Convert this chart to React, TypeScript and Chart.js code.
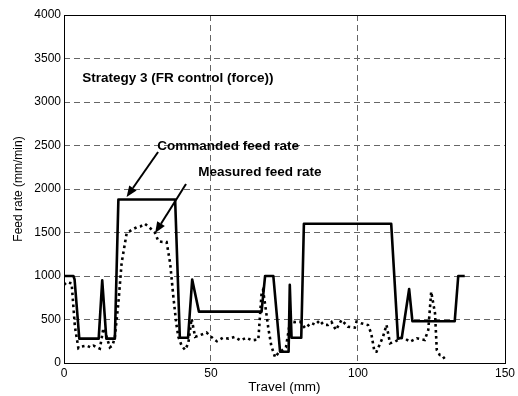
import React, { useEffect, useRef } from "react";
import { Chart, registerables } from "chart.js";

Chart.register(...registerables);

// Commanded feed rate (solid)
const commandedX = [0, 3.2, 3.6, 5.2, 11.8, 13.0, 14.4, 17.3, 18.5, 37.8, 39.4, 42.2, 43.6, 45.9, 67.2, 68.4, 71.2, 73.5, 76.4, 76.8, 77.4, 80.7, 81.6, 111.3, 113.6, 114.9, 117.4, 118.5, 132.9, 134.1, 136.3];
const commandedY = [1000, 1000, 960, 280, 280, 950, 280, 280, 1880, 1880, 290, 290, 960, 590, 590, 1000, 1000, 130, 130, 900, 290, 290, 1600, 1600, 280, 290, 850, 480, 480, 1000, 1000];

// Measured feed rate (dotted)
const measuredX = [0, 1, 2.6, 3.7, 4.9, 6, 7.7, 9, 10, 11, 12.2, 13.4, 14.5, 15.6, 16.5, 17.3, 18.5, 19.6, 21.3, 23, 24.7, 26, 27.5, 29, 30.9, 32.1, 33.5, 34.9, 36.1, 37.2, 38.2, 38.9, 40, 41.2, 42.3, 43.4, 44.6, 46.3, 48.5, 50.8, 52, 54, 56, 58, 60, 62, 64, 66.1, 67.2, 67.7, 68.5, 69.5, 70.5, 71.8, 73, 74.3, 75.5, 76.9, 78.5, 80.3, 82, 84.1, 85.5, 87, 88.2, 89.8, 91, 92.5, 94.4, 96.6, 98.9, 99.5, 101.1, 103.4, 104.5, 105.6, 106.3, 107.3, 108.5, 109.7, 110.9, 112.6, 114.8, 116, 117.7, 120, 122.7, 123.9, 124.9, 126.2, 126.8, 127.8, 128.5, 129.6];
const measuredY = [900, 930, 915, 420, 170, 190, 200, 180, 200, 185, 165, 400, 300, 180, 200, 300, 690, 1150, 1490, 1530, 1560, 1570, 1600, 1560, 1500, 1400, 1390, 1390, 1150, 760, 450, 300, 200, 150, 230, 510, 300, 320, 350, 280, 250, 290, 280, 300, 260, 290, 260, 270, 800, 840, 650, 400, 200, 65, 120, 150, 180, 480, 470, 475, 400, 460, 440, 490, 440, 437, 470, 379, 494, 417, 406, 475, 456, 437, 341, 130, 130, 207, 300, 437, 226, 245, 290, 280, 245, 284, 264, 379, 819, 571, 150, 92, 92, 42];

const xTicks = [0, 50, 100, 150];
const yTicks = [0, 500, 1000, 1500, 2000, 2500, 3000, 3500, 4000];

const titleText = "Strategy 3 (FR control (force))";
const titlePos = [6.2, 3276];
const commandedLabel = "Commanded feed rate";
const commandedLabelPos = [31.7, 2486];
const commandedArrow = [32.0, 2425, 21.3, 1908];
const measuredLabel = "Measured feed rate";
const measuredLabelPos = [45.7, 2187];
const measuredArrow = [41.5, 2057, 31.0, 1494];

const FONT = "'Liberation Sans', Arial, Helvetica, sans-serif";

function drawArrow(ctx: CanvasRenderingContext2D, x1: number, y1: number, x2: number, y2: number) {
  const ang = Math.atan2(y2 - y1, x2 - x1);
  const headLen = 11;
  const headW = 4.5;
  const bx = x2 - headLen * Math.cos(ang);
  const by = y2 - headLen * Math.sin(ang);
  ctx.save();
  ctx.strokeStyle = "#000";
  ctx.fillStyle = "#000";
  ctx.lineWidth = 2;
  ctx.beginPath();
  ctx.moveTo(x1, y1);
  ctx.lineTo(bx, by);
  ctx.stroke();
  ctx.beginPath();
  ctx.moveTo(x2, y2);
  ctx.lineTo(bx + headW * Math.sin(ang), by - headW * Math.cos(ang));
  ctx.lineTo(bx - headW * Math.sin(ang), by + headW * Math.cos(ang));
  ctx.closePath();
  ctx.fill();
  ctx.restore();
}

const annotPlugin = {
  id: "annot",
  afterDatasetsDraw(chart: any) {
    const ctx: CanvasRenderingContext2D = chart.ctx;
    const xs = chart.scales.x;
    const ys = chart.scales.y;
    const a = chart.chartArea;
    // frame
    ctx.save();
    ctx.strokeStyle = "#000";
    ctx.lineWidth = 1;
    ctx.setLineDash([]);
    ctx.strokeRect(Math.round(a.left) + 0.5, Math.round(a.top) + 0.5, Math.round(a.right - a.left), Math.round(a.bottom - a.top));
    ctx.restore();

    ctx.save();
    ctx.fillStyle = "#000";
    ctx.font = `bold 13.5px ${FONT}`;
    ctx.textBaseline = "middle";
    ctx.textAlign = "left";
    ctx.fillText(titleText, xs.getPixelForValue(titlePos[0]), ys.getPixelForValue(titlePos[1]));
    ctx.fillText(commandedLabel, xs.getPixelForValue(commandedLabelPos[0]), ys.getPixelForValue(commandedLabelPos[1]));
    ctx.fillText(measuredLabel, xs.getPixelForValue(measuredLabelPos[0]), ys.getPixelForValue(measuredLabelPos[1]));
    ctx.restore();

    drawArrow(ctx, xs.getPixelForValue(commandedArrow[0]), ys.getPixelForValue(commandedArrow[1]), xs.getPixelForValue(commandedArrow[2]), ys.getPixelForValue(commandedArrow[3]));
    drawArrow(ctx, xs.getPixelForValue(measuredArrow[0]), ys.getPixelForValue(measuredArrow[1]), xs.getPixelForValue(measuredArrow[2]), ys.getPixelForValue(measuredArrow[3]));
  },
};

export default function App() {
  const ref = useRef<HTMLCanvasElement>(null);
  useEffect(() => {
    if (!ref.current) return;
    const edgeX = (v: number) => v === xTicks[0] || v === xTicks[xTicks.length - 1];
    const edgeY = (v: number) => v === yTicks[0] || v === yTicks[yTicks.length - 1];
    const chart = new Chart(ref.current, {
      type: "line",
      data: {
        datasets: [
          {
            label: "Commanded feed rate",
            data: commandedX.map((x, i) => ({ x, y: commandedY[i] })),
            borderColor: "#000",
            borderWidth: 2.6,
            pointRadius: 0,
            fill: false,
            tension: 0,
            borderJoinStyle: "round",
          },
          {
            label: "Measured feed rate",
            data: measuredX.map((x, i) => ({ x, y: measuredY[i] })),
            borderColor: "#000",
            borderWidth: 2.6,
            borderDash: [2.6, 3.4],
            borderCapStyle: "butt",
            pointRadius: 0,
            fill: false,
            tension: 0,
          },
        ],
      },
      options: {
        responsive: false,
        animation: false,
        events: [],
        layout: { padding: { top: 15, right: 13, left: 0, bottom: 0 } },
        plugins: { legend: { display: false }, tooltip: { enabled: false } },
        scales: {
          x: {
            type: "linear",
            min: 0,
            max: 150,
            afterBuildTicks: (s: any) => { s.ticks = xTicks.map((v) => ({ value: v })); },
            afterFit: (s: any) => { s.height = 33; },
            grid: {
              drawTicks: false,
              color: (c: any) => (edgeX(c.tick?.value) ? "rgba(0,0,0,0)" : "#666"),
              lineWidth: 1,
            },
            border: { display: false, dash: [6, 4] },
            ticks: { color: "#000", font: { family: FONT, size: 12 }, padding: 3, maxRotation: 0, callback: (v: any) => String(v) },
            title: { display: true, text: "Travel (mm)", color: "#000", font: { family: FONT, size: 13.5 }, padding: { top: 0, bottom: 1 } },
          },
          y: {
            type: "linear",
            min: 0,
            max: 4000,
            afterBuildTicks: (s: any) => { s.ticks = yTicks.map((v) => ({ value: v })); },
            afterFit: (s: any) => { s.width = 64; },
            grid: {
              drawTicks: false,
              color: (c: any) => (edgeY(c.tick?.value) ? "rgba(0,0,0,0)" : "#666"),
              lineWidth: 1,
            },
            border: { display: false, dash: [6, 4] },
            ticks: { color: "#000", font: { family: FONT, size: 12 }, padding: 3, callback: (v: any) => String(v) },
            title: { display: true, text: "Feed rate (mm/min)", color: "#000", font: { family: FONT, size: 12 }, padding: { top: 11, bottom: 0 } },
          },
        },
      },
      plugins: [annotPlugin],
    } as any);
    return () => chart.destroy();
  }, []);
  return (
    <div style={{ position: "absolute", left: 0, top: 0, width: 518, height: 396, background: "#fff" }}>
      <canvas ref={ref} width={518} height={396} style={{ width: 518, height: 396, display: "block" }} />
    </div>
  );
}
